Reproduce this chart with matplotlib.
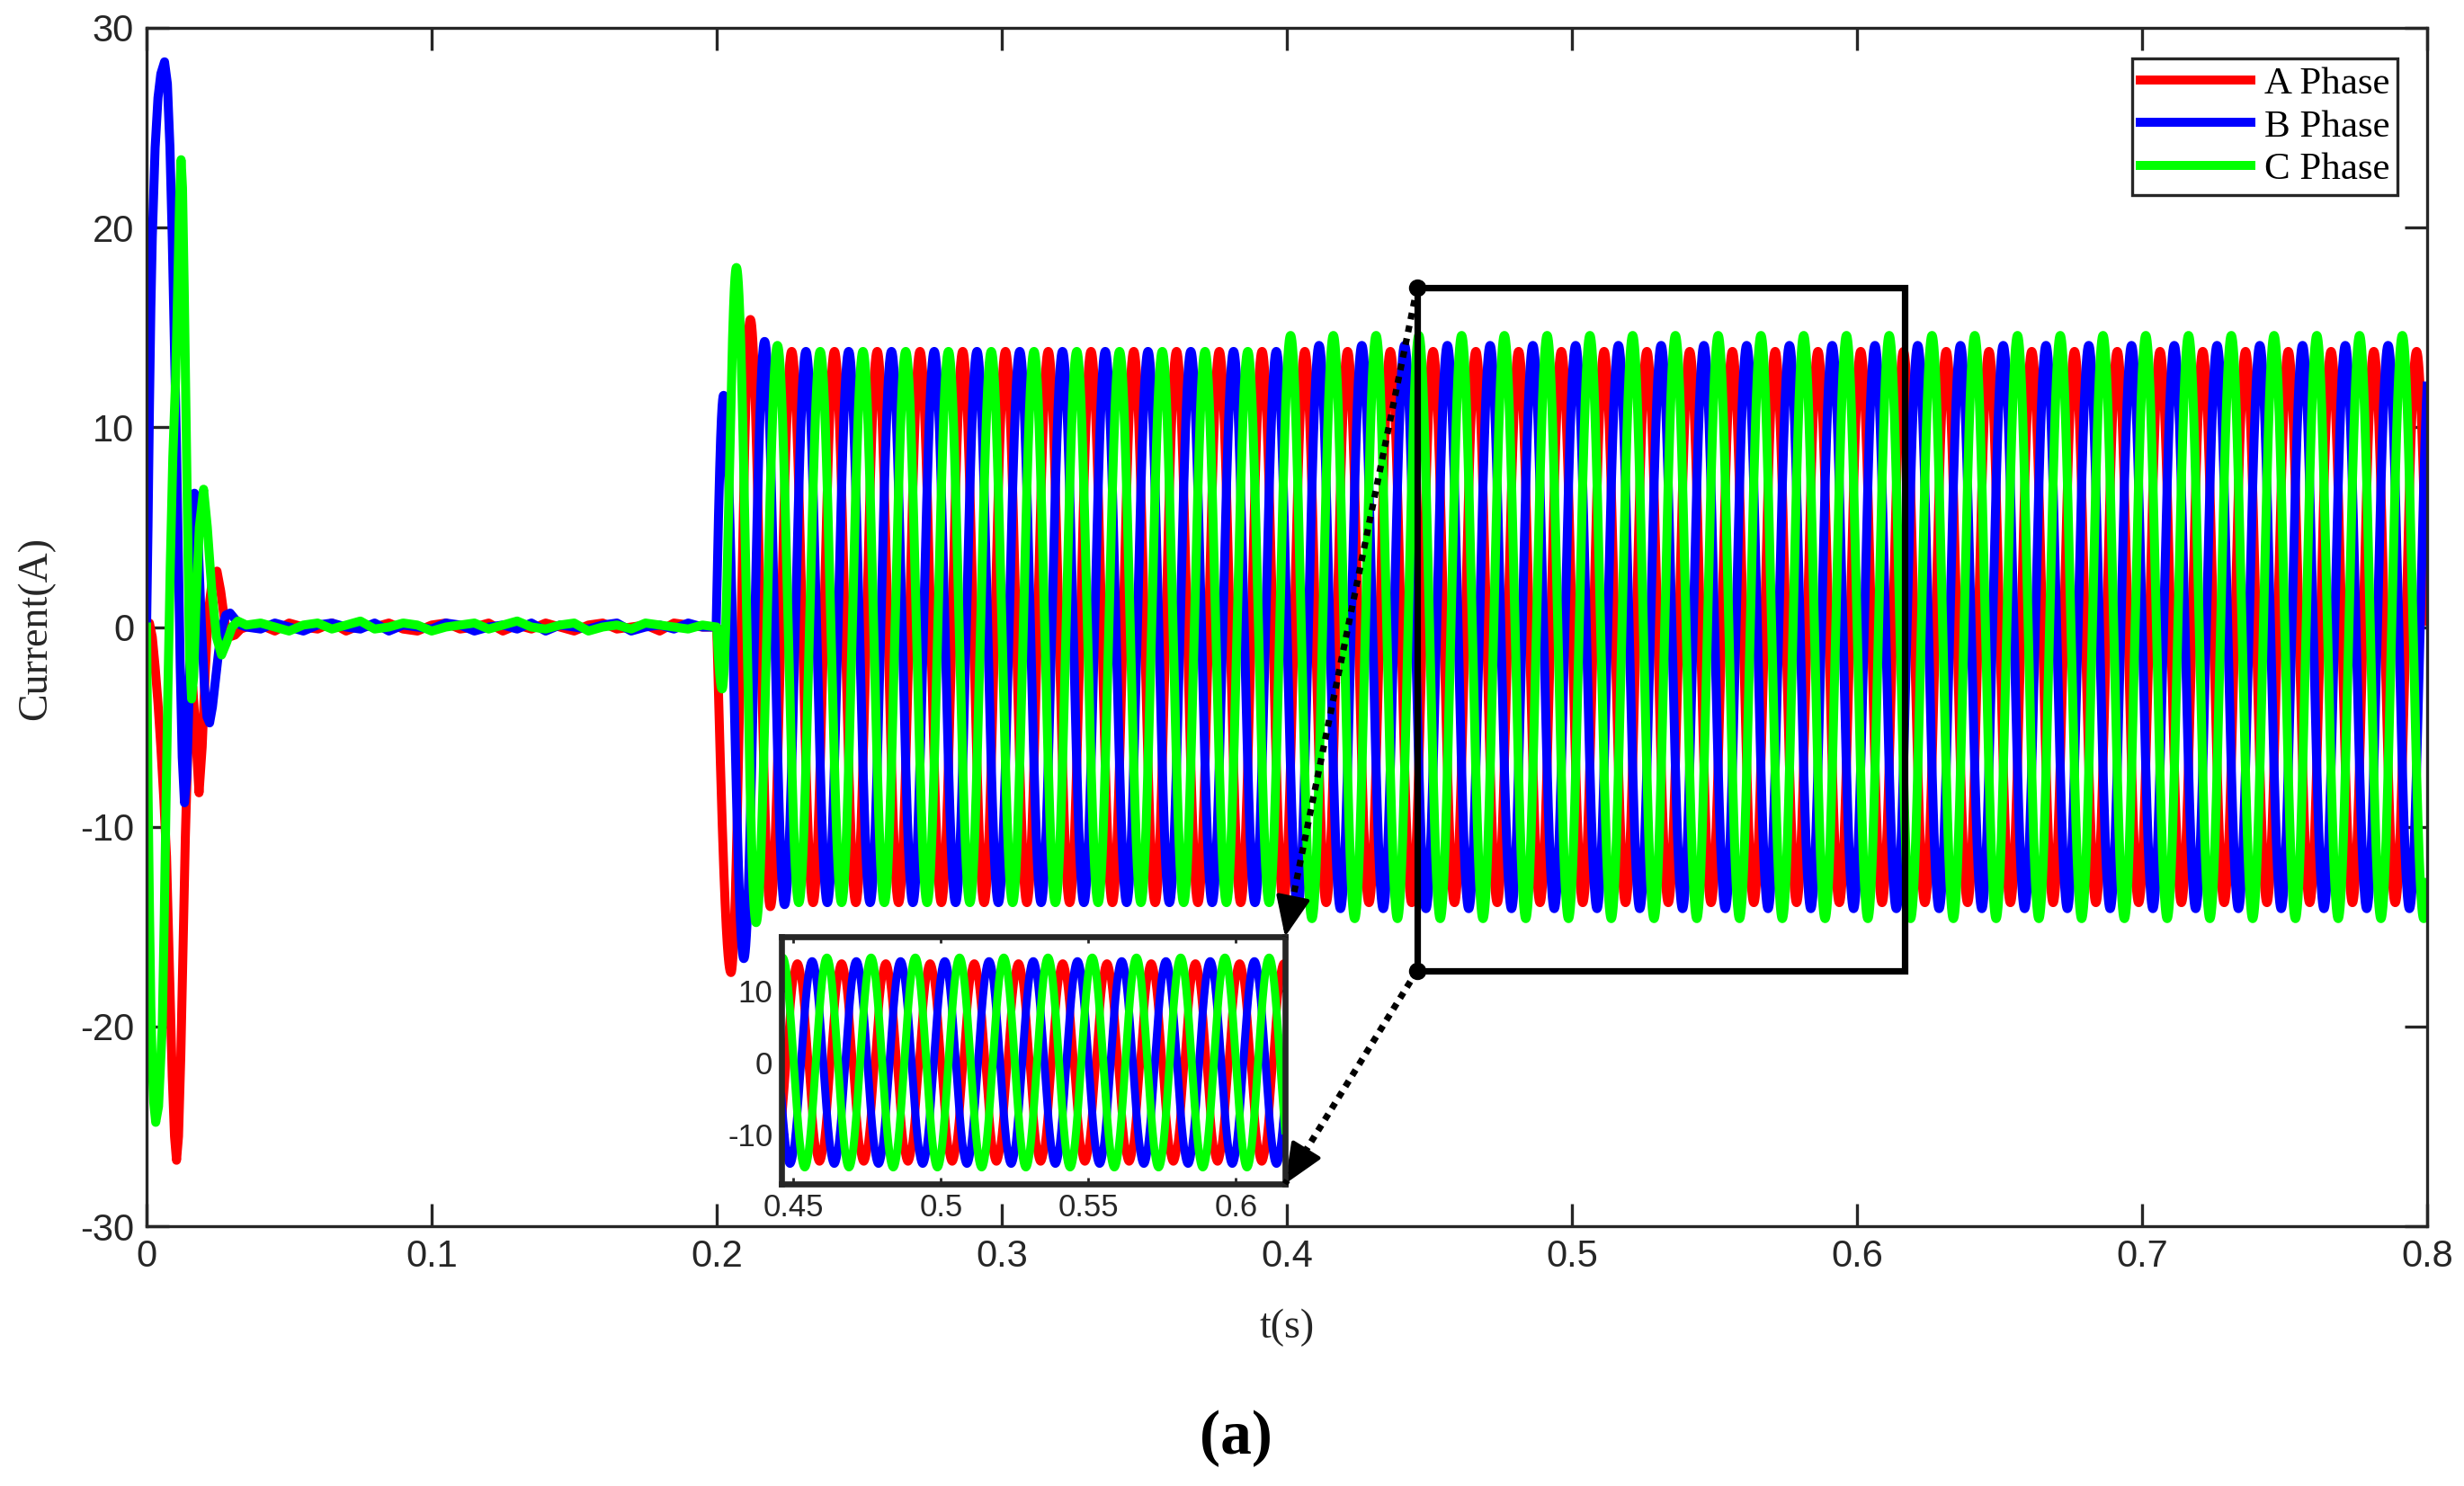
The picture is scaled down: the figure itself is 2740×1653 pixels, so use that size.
import numpy as np
import matplotlib
matplotlib.use('Agg')
import matplotlib.pyplot as plt
from matplotlib.lines import Line2D
from matplotlib.patches import Rectangle

plt.rcParams['axes.unicode_minus'] = False

W, H = 2740, 1653

labels = ['A Phase', 'B Phase', 'C Phase']
colors = ['#ff0000', '#0000ff', '#00ff00']

# start-up transient, time in ms, current in A
tA_ms = [0, 1, 2, 3, 4, 5, 6, 7, 8, 9, 9.8, 10.5, 11.2, 12, 13, 13.6, 14.5, 15.5, 16.2, 17,
         18.4, 19.5, 20.5, 21.5, 23, 24.7, 26, 27.5, 29, 31, 33, 35]
iA = [0, 0.2, -0.5, -2, -3.8, -6, -8.5, -11.5, -17, -22.5, -25.5, -26.7, -25.5, -21.5, -14.5, -10.5,
      -6, -3.2, -3, -4.8, -8.3, -6, -2.5, 0.5, 2.3, 2.8, 1.8, 0.2, -0.5, -0.4, -0.1, 0]
tB_ms = [0, 0.5, 1, 1.5, 2, 3, 4, 5, 6.3, 7.3, 8.2, 9, 9.8, 10.5, 11.1, 11.8, 12.5, 13.3, 14.1, 14.7,
         15.2, 15.8, 16.3, 16.8, 17.4, 18.2, 19.2, 20.3, 21.2, 22.1, 23.1, 24.2, 25.3, 26.5, 27.8,
         29.3, 31, 33, 35]
iB = [0, 5, 11, 16, 19.5, 24, 26.5, 27.7, 28.3, 27.2, 24.0, 19.5, 14.0, 9.0, 4.0, -2.0, -6.5, -8.8,
      -7.5, -4.5, -1.5, 2.5, 5.2, 6.7, 6.2, 3.8, 0.2, -3.0, -4.5, -4.8, -4.0, -2.6, -1.2, 0.0, 0.6,
      0.7, 0.4, 0.1, 0.0]
tC_ms = [0, 0.5, 1, 1.5, 2, 2.5, 3.2, 4.2, 5.5, 6.2, 6.8, 7.5, 8.3, 9.2, 10.2, 11, 11.6, 12.1, 12.6,
         13.2, 13.8, 14.5, 15.1, 15.8, 16.5, 17.3, 18.5, 20, 21.3, 22.8, 24.5, 26.3, 28, 30, 32, 35]
iC = [0, -8, -14, -19, -22, -23.8, -24.8, -24, -20, -14.5, -9, -3, 3, 8.5, 12.5, 17.5, 21.5, 23.4,
      22, 17, 11, 4, -1.5, -3.6, -2.5, 1, 5, 6.9, 5, 2, -0.5, -1.4, -0.8, 0, 0.3, 0.1]

# quiet interval before the load is connected, one sample every 5 ms
t_quiet = np.arange(0.040, 0.1951, 0.005)
qA = [0.1, -0.2, 0.2, 0.0, -0.1, 0.2, -0.2, 0.1, 0.0, 0.2, -0.1, -0.2, 0.1, 0.2, -0.1, 0.0,
      0.2, -0.2, 0.1, -0.1, 0.2, 0.0, -0.2, 0.1, 0.2, -0.1, 0.0, 0.1, -0.2, 0.2, 0.1, 0.0]
qB = [-0.1, 0.2, 0.0, -0.2, 0.1, 0.2, 0.0, -0.1, 0.2, -0.2, 0.1, 0.0, -0.1, 0.2, 0.1, -0.2,
      0.0, 0.1, -0.1, 0.2, -0.2, 0.1, 0.0, -0.1, 0.1, 0.2, -0.2, 0.0, 0.1, -0.1, 0.2, 0.0]
qC = [0.2, 0.0, -0.2, 0.1, 0.2, -0.1, 0.1, 0.3, -0.1, 0.0, 0.2, 0.1, -0.2, 0.0, 0.1, 0.2,
      -0.1, 0.1, 0.3, 0.0, -0.1, 0.1, 0.2, -0.2, 0.0, 0.1, -0.1, 0.2, 0.1, 0.0, -0.1, 0.1]

# switch-on at 0.2 s: first peaks/troughs (s, A)
on_start = [0.2, 0.1998, 0.2]
on_tA, on_vA = [0.2050, 0.2118, 0.2188], [-17.3, 15.4, -14.0]
on_tB, on_vB = [0.2024, 0.2095, 0.2168, 0.2238], [11.6, -16.6, 14.3, -13.9]
on_tC, on_vC = [0.2019, 0.2069, 0.2138, 0.2213], [-3.1, 18.0, -14.8, 14.1]

# steady state
period = 0.015
first_steady = [0.2263, 0.2313, 0.2288]
amp_before = [13.8, 13.8, 13.8]
amp_after = [13.8, 14.1, 14.6]
t_amp_change = 0.398
t_end = 0.8


def run_wave(t0, ext_t, ext_v, t_first, a_lo, a_hi):
    et, ev = list(ext_t), list(ext_v)
    sign = -np.sign(ev[-1])
    tk = t_first
    while tk < t_end + period:
        et.append(tk)
        ev.append(sign * (a_lo if tk < t_amp_change else a_hi))
        sign = -sign
        tk += period / 2
    et, ev = np.array(et), np.array(ev)
    t = np.linspace(t0, t_end, 24001)
    y = np.zeros_like(t)
    m = t < et[0]
    y[m] = ev[0] * np.sin(np.pi / 2 * (t[m] - t0) / (et[0] - t0))
    k = np.clip(np.searchsorted(et, t, side='right') - 1, 0, len(et) - 2)
    a, b = ev[k], ev[k + 1]
    frac = (t - et[k]) / (et[k + 1] - et[k])
    y[~m] = ((a + b) / 2 + (a - b) / 2 * np.cos(np.pi * frac))[~m]
    return t, y


phases = []
for i, (tm, iv, q, ot, ov) in enumerate([(tA_ms, iA, qA, on_tA, on_vA),
                                          (tB_ms, iB, qB, on_tB, on_vB),
                                          (tC_ms, iC, qC, on_tC, on_vC)]):
    tr, yr = run_wave(on_start[i], ot, ov, first_steady[i], amp_before[i], amp_after[i])
    t = np.concatenate([np.array(tm) / 1000.0, t_quiet, tr])
    y = np.concatenate([iv, q, yr])
    phases.append((t, y))

fig = plt.figure(figsize=(W / 200, H / 200), dpi=200)
ax = fig.add_axes([163 / W, 1 - 1364 / H, 2536 / W, 1333 / H])

for (t, y), c, lab in zip(phases, colors, labels):
    ax.plot(t, y, color=c, lw=3.6, label=lab)

ax.set_xlim(0, 0.8)
ax.set_ylim(-30, 30)
ax.set_xticks(np.arange(0, 0.81, 0.1))
ax.set_xticklabels(['0', '0.1', '0.2', '0.3', '0.4', '0.5', '0.6', '0.7', '0.8'])
ax.set_yticks(range(-30, 31, 10))
ax.tick_params(direction='in', length=9, width=1.2, top=True, right=True,
               labelsize=15, colors='#262626', pad=5)
for lab in ax.get_xticklabels() + ax.get_yticklabels():
    lab.set_family('Liberation Sans')
for s in ax.spines.values():
    s.set_linewidth(1.2)
    s.set_color('#262626')

leg = ax.legend(loc='upper right', bbox_to_anchor=(2666 / W, 1 - 65 / H),
                bbox_transform=fig.transFigure, borderaxespad=0,
                prop={'family': 'Liberation Serif', 'size': 15.5},
                handlelength=2.85, handletextpad=0.35, labelspacing=0.2,
                borderpad=0.2, fancybox=False, framealpha=1)
leg.get_frame().set_edgecolor('#262626')
leg.get_frame().set_linewidth(1.2)

fig.text(40 / W, 1 - 699 / H, 'Current(A)', rotation=90, ha='center', va='center',
         family='Liberation Serif', size=16.5, color='#262626')
fig.text(1431 / W, 1 - 1477 / H, 't(s)', ha='center', va='center',
         family='Liberation Serif', size=16.5, color='#262626')
fig.text(1374 / W, 1 - 1600 / H, '(a)', ha='center', va='center',
         family='Liberation Serif', weight='bold', size=25)

# zoom box
x0, x1, y0, y1 = 0.4457, 0.6167, -17.2, 17.0
ax.add_patch(Rectangle((x0, y0), x1 - x0, y1 - y0, fill=False, lw=2.6, ec='k', zorder=6))

# inset
axi = fig.add_axes([869 / W, 1 - 1317 / H, 560 / W, 275 / H], zorder=3)
for (t, y), c in zip(phases, colors):
    axi.plot(t, y, color=c, lw=3.2)
axi.set_xlim(0.4459, 0.6167)
axi.set_ylim(-16.9, 17.5)
axi.set_xticks([0.45, 0.5, 0.55, 0.6])
axi.set_xticklabels(['0.45', '0.5', '0.55', '0.6'])
axi.set_yticks([-10, 0, 10])
axi.tick_params(direction='in', length=2.5, width=1.0, top=True, right=True,
                labelsize=12.5, colors='#262626', pad=3.5)
for lab in axi.get_xticklabels() + axi.get_yticklabels():
    lab.set_family('Liberation Sans')
for s in axi.spines.values():
    s.set_linewidth(2.4)
    s.set_color('#262626')

# dotted connectors with arrow heads
to_px = ax.transData
for (cx, cy), (px, py) in [((x0, y1), (1429, 1042)), ((x0, y0), (1429, 1317))]:
    sx, sy = to_px.transform((cx, cy))
    ex, ey = px, H - py
    fig.add_artist(Line2D([sx, ex], [sy, ey], transform=None, color='k', lw=2.6,
                          ls=(0, (1, 1)), zorder=7))
    fig.add_artist(Line2D([sx], [sy], transform=None, marker='o', ms=6, color='k', zorder=7))
    d = np.array([ex - sx, ey - sy])
    d = d / np.hypot(*d)
    back = (ex - 30 * d[0], ey - 30 * d[1])
    ax.annotate('', xy=(ex, ey), xycoords='figure pixels', xytext=back,
                textcoords='figure pixels', zorder=8, annotation_clip=False,
                arrowprops=dict(arrowstyle='-|>,head_length=1.4,head_width=0.6',
                                color='k', lw=1.5, shrinkA=0, shrinkB=0))

fig.savefig('out.png', dpi=200)
